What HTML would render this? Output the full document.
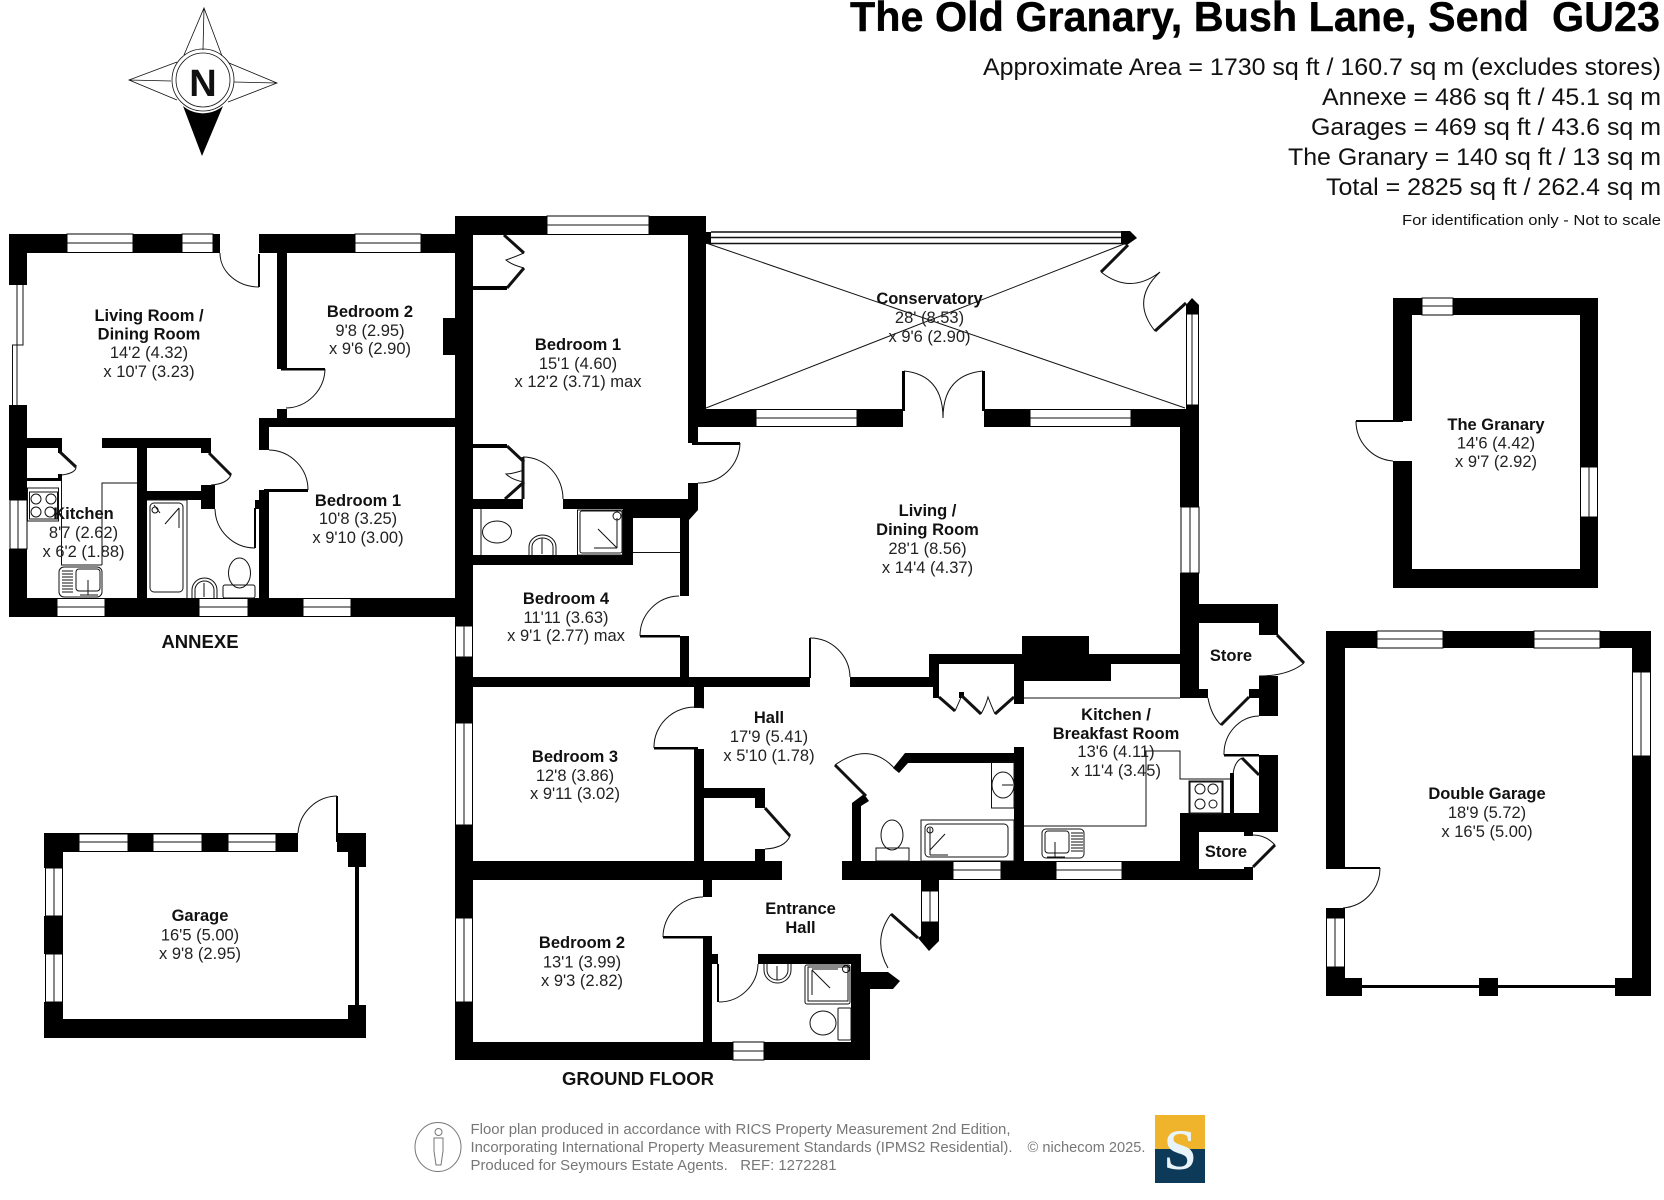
<!DOCTYPE html>
<html><head><meta charset="utf-8"><title>The Old Granary floor plan</title>
<style>
html,body{margin:0;padding:0;background:#fff}
svg{display:block}
text{font-family:"Liberation Sans",sans-serif}
.b{font-weight:bold;font-size:16.5px;fill:#111;text-anchor:middle}
.r{font-size:16.5px;fill:#222;text-anchor:middle}
.a{font-size:24px;fill:#111;text-anchor:end}
.f{font-size:14.5px;fill:#777}
.l{fill:none;stroke:#111;stroke-width:1}
.t{fill:none;stroke:#111;stroke-width:3}
.w{fill:#fff;stroke:#000;stroke-width:1}
</style></head><body>
<svg width="1664" height="1200" viewBox="0 0 1664 1200" xmlns="http://www.w3.org/2000/svg">
<rect width="1664" height="1200" fill="#fff"/>

<!-- compass -->
<g class="l" style="stroke-width:.8">
<path d="M184 55L204 8L222 56M203 50L204 8M177 62L129 80L177 100M129 80L171 81M229 63L277 83L228 102M234 82L277 83"/>
<circle cx="203" cy="80" r="31"/><circle cx="203" cy="80" r="27"/>
</g>
<path d="M183 106 A31 31 0 0 0 223 106 L202 156Z" fill="#000"/>
<text x="203" y="96" font-size="38" font-weight="bold" text-anchor="middle" fill="#111">N</text>

<!-- header -->
<text x="1660" y="31" font-size="42" font-weight="bold" text-anchor="end" fill="#000" stroke="#000" stroke-width=".4" textLength="810" lengthAdjust="spacingAndGlyphs" xml:space="preserve">The Old Granary, Bush Lane, Send  GU23</text>
<text class="a" x="1661" y="75" textLength="678" lengthAdjust="spacingAndGlyphs">Approximate Area = 1730 sq ft / 160.7 sq m (excludes stores)</text>
<text class="a" x="1661" y="105" textLength="339" lengthAdjust="spacingAndGlyphs">Annexe = 486 sq ft / 45.1 sq m</text>
<text class="a" x="1661" y="135" textLength="350" lengthAdjust="spacingAndGlyphs">Garages = 469 sq ft / 43.6 sq m</text>
<text class="a" x="1661" y="165" textLength="373" lengthAdjust="spacingAndGlyphs">The Granary = 140 sq ft / 13 sq m</text>
<text class="a" x="1661" y="195" textLength="335" lengthAdjust="spacingAndGlyphs">Total = 2825 sq ft / 262.4 sq m</text>
<text x="1661" y="225" font-size="15" fill="#111" text-anchor="end" textLength="259" lengthAdjust="spacingAndGlyphs">For identification only - Not to scale</text>

<!-- ANNEXE walls -->
<g fill="#000">
<rect x="9" y="234" width="58" height="19"/><rect x="133" y="234" width="49" height="19"/><rect x="213" y="234" width="7" height="19"/>
<rect x="259" y="234" width="96" height="19"/><rect x="421" y="234" width="34" height="19"/>
<rect x="9" y="234" width="18" height="51"/><rect x="9" y="405" width="18" height="95"/><rect x="9" y="549" width="18" height="68"/>
<rect x="9" y="598" width="48" height="19"/><rect x="105" y="598" width="94" height="19"/><rect x="248" y="598" width="55" height="19"/><rect x="351" y="598" width="104" height="19"/>
<rect x="277" y="253" width="10" height="116"/><rect x="277" y="409" width="10" height="9"/>
<rect x="259" y="418" width="196" height="9"/><rect x="259" y="418" width="10" height="32"/><rect x="259" y="490" width="10" height="108"/>
<rect x="255" y="500" width="5" height="9"/><rect x="264" y="489" width="44" height="3"/><rect x="281" y="368" width="44" height="2.5"/>
<rect x="443" y="318" width="12" height="37"/>
<rect x="27" y="438" width="35" height="10"/><rect x="102" y="438" width="109" height="10"/>
<rect x="58" y="448" width="4" height="5"/><rect x="58" y="474" width="4" height="6"/><rect x="27" y="478" width="35" height="3"/>
<rect x="137" y="448" width="10" height="150"/>
<rect x="147" y="491" width="55" height="9"/><rect x="201" y="485" width="14" height="24"/><rect x="201" y="448" width="10" height="5"/>
<rect x="254" y="508" width="2" height="40"/><rect x="258" y="254" width="2" height="33"/>

<!-- MAIN HOUSE walls -->
<rect x="455" y="216" width="92" height="19"/><rect x="649" y="216" width="57" height="19"/>
<rect x="455" y="216" width="18" height="410"/><rect x="455" y="657" width="18" height="66"/><rect x="455" y="825" width="18" height="93"/><rect x="455" y="1002" width="18" height="58"/>
<rect x="688" y="235" width="18" height="192"/><rect x="688" y="427" width="10" height="16"/><rect x="692" y="442" width="48" height="3"/><rect x="688" y="483" width="10" height="26"/>
<rect x="473" y="499" width="50" height="10"/><rect x="563" y="499" width="125" height="10"/><rect x="623" y="509" width="60" height="9"/>
<rect x="623" y="509" width="10" height="56"/><rect x="473" y="555" width="160" height="10"/>
<polygon points="680,509 698,509 698,510 689,520 689,596 680,596"/>
<rect x="640" y="635" width="40" height="2.5"/><rect x="680" y="636" width="9" height="50"/>
<rect x="473" y="677" width="337" height="10"/><rect x="850" y="677" width="83" height="10"/>
<rect x="809" y="638" width="2" height="40"/>
<rect x="694" y="687" width="10" height="21"/><rect x="654" y="747" width="44" height="2.5"/><rect x="694" y="749" width="10" height="112"/>
<rect x="704" y="788" width="61" height="10"/><rect x="755" y="798" width="10" height="10"/><rect x="755" y="849" width="10" height="12"/>
<rect x="473" y="861" width="309" height="19"/>
<rect x="703" y="880" width="9" height="17"/><rect x="663" y="936" width="49" height="2.5"/><rect x="703" y="937" width="9" height="105"/><rect x="712" y="954" width="6" height="10"/>
<rect x="717" y="964" width="2" height="38"/><rect x="758" y="954" width="103" height="10"/><rect x="851" y="954" width="10" height="88"/><rect x="861" y="972" width="9" height="88"/>
<rect x="455" y="1042" width="278" height="18"/><rect x="764" y="1042" width="106" height="18"/>
<polygon points="861,972 888,972 900,981 893,989 869,989 861,989"/>
<rect x="921" y="880" width="18" height="11"/><polygon points="921,922 939,922 939,941 929,951 918,938 921,936"/>
<rect x="842" y="861" width="111" height="19"/><rect x="1001" y="861" width="55" height="19"/><rect x="1122" y="861" width="58" height="19"/><rect x="1180" y="869" width="73" height="11"/>
<polygon points="852,861 861,861 861,806 869,801 864,794 852,803"/>
<polygon points="905,753 1015,753 1015,763 908,763 899,773 893,768"/>
<rect x="1014" y="747" width="10" height="114"/>
<!-- conservatory walls -->
<rect x="706" y="409" width="50" height="18"/><rect x="857" y="409" width="46" height="18"/><rect x="902" y="371" width="3" height="40"/>
<rect x="982" y="371" width="3" height="40"/><rect x="984" y="409" width="46" height="18"/><rect x="1131" y="409" width="68" height="18"/>
<rect x="706" y="232" width="5" height="12"/>
<polygon points="1121,231 1130,231 1137,238 1127,245 1121,244"/>
<polygon points="1192,298 1199,305 1199,314 1186,314 1186,305"/>
<rect x="1186" y="405" width="13" height="22"/><rect x="1180" y="427" width="19" height="80"/>
<!-- east wall & stores -->
<rect x="1180" y="573" width="19" height="125"/><rect x="1199" y="604" width="79" height="19"/><rect x="1259" y="604" width="19" height="31"/>
<rect x="1259" y="676" width="19" height="40"/><rect x="1259" y="755" width="19" height="77"/><rect x="1224" y="754" width="35" height="2.500"/>
<rect x="1180" y="813" width="98" height="19"/><rect x="1180" y="813" width="19" height="67"/>
<rect x="1199" y="689" width="9" height="9"/><rect x="1249" y="689" width="10" height="9"/>
<rect x="1230" y="773" width="4" height="41"/>
<rect x="1244" y="830" width="9" height="6"/><rect x="1244" y="867" width="9" height="13"/>
<!-- chimney / kitchen top -->
<rect x="929" y="654" width="251" height="10"/><rect x="1022" y="636" width="67" height="18"/>
<rect x="1014" y="664" width="97" height="17"/><rect x="1014" y="664" width="10" height="40"/>
<rect x="929" y="654" width="10" height="33"/><rect x="933" y="687" width="6" height="11"/><rect x="959" y="692" width="5" height="6"/>

<!-- GRANARY -->
<path fill-rule="evenodd" d="M1393 298H1598V588H1393V461H1412V569H1580V315H1412V421H1393Z"/>
<rect x="1356" y="420" width="47" height="2"/>

<!-- DOUBLE GARAGE -->
<rect x="1326" y="631" width="325" height="17"/><rect x="1326" y="631" width="19" height="237"/><rect x="1632" y="631" width="19" height="365"/>
<rect x="1326" y="908" width="19" height="10"/><rect x="1326" y="967" width="19" height="29"/><rect x="1326" y="978" width="36" height="18"/>
<rect x="1362" y="985" width="253" height="3"/><rect x="1479" y="978" width="19" height="18"/><rect x="1615" y="978" width="36" height="18"/>
<rect x="1326" y="867" width="54" height="2"/>

<!-- GARAGE -->
<rect x="44" y="833" width="254" height="19"/><rect x="44" y="833" width="19" height="35"/><rect x="44" y="916" width="19" height="38"/>
<rect x="44" y="1002" width="19" height="36"/><rect x="44" y="1019" width="322" height="19"/>
<rect x="337" y="833" width="29" height="19"/><rect x="348" y="852" width="18" height="15"/><rect x="348" y="1005" width="18" height="14"/>
<rect x="355" y="867" width="4" height="138"/><rect x="336" y="796" width="2" height="46"/>
</g>

<!-- windows -->
<g class="w">
<rect x="67" y="234" width="66" height="18.500"/><rect x="182" y="234" width="31" height="18.500"/><rect x="355" y="234" width="66" height="18.500"/>
<rect x="57" y="598.500" width="48" height="18"/><rect x="199" y="598.500" width="49" height="18"/><rect x="303" y="598.500" width="48" height="18"/>
<rect x="547" y="216" width="102" height="18.500"/><rect x="756" y="409.500" width="101" height="17"/><rect x="1030" y="409.500" width="101" height="17"/>
<rect x="953" y="861.500" width="48" height="18"/><rect x="1056" y="861.500" width="66" height="18"/><rect x="733" y="1042" width="31" height="18"/>
<rect x="1422" y="298" width="31" height="17"/><rect x="1377" y="631" width="66" height="17"/><rect x="1534" y="631" width="66" height="17"/>
<rect x="79" y="834" width="49" height="17.500"/><rect x="153" y="834" width="49" height="17.500"/><rect x="228" y="834" width="48" height="17.500"/>
<rect x="10" y="500" width="17" height="49"/><rect x="455.500" y="626" width="17" height="31"/><rect x="455.500" y="723" width="17" height="102"/><rect x="455.500" y="918" width="17" height="84"/>
<rect x="921.500" y="891" width="17" height="31"/><rect x="1181" y="507" width="18" height="66"/><rect x="1186.500" y="314" width="12" height="91"/>
<rect x="1580.500" y="467" width="17" height="50"/><rect x="1632.500" y="672" width="18" height="84"/><rect x="1326.500" y="918" width="18" height="49"/>
<rect x="45.500" y="868" width="17" height="48"/><rect x="45.500" y="954" width="17" height="48"/>
</g>
<path class="l" d="M67 243H133M182 243H213M355 243H421M57 607H105M199 607H248M303 607H351M547 225H649M756 418H857M1030 418H1131M953 870H1001M1056 870H1122M733 1051H764M1422 306H1453M1377 639H1443M1534 639H1600M79 842H128M153 842H202M228 842H276M18 500V549M464 626V657M464 723V825M464 918V1002M930 891V922M1190 507V573M1192 314V405M1589 467V517M1641 672V756M1335 918V967M54 868V916M54 954V1002"/>
<!-- annexe bay window -->
<path class="l" d="M23 285V345H17V405M17 285V345H12.500V405"/>
<!-- conservatory -->
<path d="M711 232H1121M711 237.500H1121M711 243.500H1121" class="l" style="stroke-width:1.500"/>
<path class="l" d="M706 243L1185 408M706 408L1124 244"/>
<path class="t" d="M1128 245L1101 272M1155 331L1186 303"/>
<path class="l" d="M1101 272Q1130 295 1160 272M1160 272Q1130 300 1155 331M904 371Q943 375 943 418M983 371Q943 375 943 418"/>

<!-- doors -->
<g class="l">
<path d="M220 253A39 34 0 0 0 259 287M325 369A40 40 0 0 1 286 408M269 450A40 40 0 0 1 308 490M62 475Q76 473 76 467M211 485Q227 484 231 475M215 509A40 40 0 0 0 255 548"/>
<path d="M740 443A41 41 0 0 1 698 483M523 457A40 42 0 0 1 563 499M679 596A40 40 0 0 0 640 636M810 638A40 40 0 0 1 850 677M704 708A41 40 0 0 0 654 748M765 849Q785 848 790 836M703 897A40 40 0 0 0 663 937M719 1002A39 39 0 0 0 758 964"/>
<path d="M835 765Q870 740 896 770M891 914Q872 940 888 968M1304 663Q1288 676 1259 676M1259 716A36 38 0 0 0 1224 755M1208 698Q1211 715 1221 725M1233 775Q1234 762 1242 758M1253 835Q1266 835 1275 845M1356 421A40 40 0 0 0 1393 461M1380 868A40 40 0 0 1 1343 908M298 833A40 40 0 0 1 337 796"/>
</g>
<g class="t">
<path d="M60 452L76 467M209 453L231 475M765 808L790 836M835 765L866 796M918 938L891 914M1277 635L1304 663M1221 725L1249 697M1242 758L1259 775M1275 845L1253 867M504 235L524 253M524 268L507 288M507 446L524 462M523 457V499M524 482L505 499M939 697L955 711M962 696L981 714M995 714L1014 697"/>
</g>
<path class="l" d="M524 253Q512 258 506 260Q512 265 524 268M524 470Q512 474 506 474Q512 480 524 482M955 711Q960 700 962 695M981 714Q986 705 988 697Q991 705 995 714"/>
<path d="M473 286H507V290H473Z" fill="#000"/><path d="M473 444H507V448H473Z" fill="#000"/>

<!-- kitchen counters etc -->
<g class="l">
<path d="M61.500 481V565H102M102 565V483H137M147 500H187V598M633 552.500H680M481 509V555M1024 826H1146V751H1180V779H1230M1024 698H1180"/>
<rect x="27.500" y="488" width="31" height="33"/><rect x="29.500" y="492" width="28" height="27"/>
<circle cx="36" cy="499" r="5"/><circle cx="51" cy="499" r="5"/><circle cx="36" cy="512" r="5"/><circle cx="50" cy="512" r="5"/>
<rect x="59" y="567" width="43" height="30" rx="5"/><rect x="76" y="569" width="24" height="22" rx="3"/>
<path d="M62 571H73M62 574H73M62 577H73M62 580H73M62 583H73M62 586H73M62 589H73M62 592H73M88 580V595M80 595H98"/>
<!-- annexe bath -->
<rect x="150" y="503" width="33" height="89" rx="4"/><path d="M179 508V528M179 508L165 524M154 505L160 513"/><circle cx="155" cy="510" r="3"/>
<ellipse cx="239.500" cy="573" rx="11" ry="15"/><rect x="223" y="585" width="32" height="13" rx="2"/>
<path d="M192 598V590A12.500 12 0 0 1 217 590V598"/><path d="M195 598V590A9.500 9 0 0 1 214 590V598M204 583V597"/>
<!-- en-suite bed 1 -->
<ellipse cx="497" cy="532" rx="14.500" ry="11"/>
<path d="M529 555V547A13.500 12 0 0 1 556 547V555M532 555V547A10.500 9 0 0 1 553 547V555M542 538V554"/>
<rect x="577.500" y="510" width="45" height="45"/><rect x="580" y="511" width="42" height="42" rx="2"/><circle cx="617" cy="516" r="4"/>
<path d="M598 529L617 548M594 548H617M617 518V548"/>
<!-- main bath -->
<rect x="921" y="820" width="93" height="41"/><rect x="925" y="824" width="83" height="33" rx="4"/><circle cx="930" cy="830" r="3"/>
<path d="M930 828V855M930 855H948M930 850L945 834"/>
<rect x="991.500" y="762" width="22.500" height="46"/><ellipse cx="1003" cy="785" rx="11" ry="13"/><path d="M1002 785H1013"/>
<ellipse cx="892" cy="835" rx="11" ry="15"/><rect x="876" y="848" width="33" height="13"/>
<!-- kitchen -->
<rect x="1190" y="782" width="32" height="31"/><rect x="1189" y="781" width="34" height="33"/>
<circle cx="1200" cy="789" r="5"/><circle cx="1213" cy="789" r="5"/><circle cx="1200" cy="804" r="5"/><circle cx="1213" cy="804" r="4"/>
<rect x="1042" y="829" width="42" height="29" rx="4"/><rect x="1045" y="831" width="24" height="22" rx="3"/>
<path d="M1071 833H1083M1071 836H1083M1071 839H1083M1071 842H1083M1071 845H1083M1071 848H1083M1071 851H1083M1055 842V857M1047 857H1065"/>
<!-- entrance en-suite -->
<path d="M764 964V970A13.500 13 0 0 0 791 970V964M767 964V970A10.500 10 0 0 0 788 970V964M777 966V980"/>
<rect x="805" y="965" width="45" height="39" rx="2"/><rect x="808" y="967" width="40" height="34"/><circle cx="846" cy="969" r="3.500"/><path d="M812 970L830 988M812 970V995M812 969H838"/>
<ellipse cx="823" cy="1023" rx="13" ry="12"/><rect x="838" y="1008" width="13" height="32" rx="1"/>
</g>

<!-- labels -->
<text class="b" x="149" y="321">Living Room /</text><text class="b" x="149" y="339.500">Dining Room</text><text class="r" x="149" y="358">14'2 (4.32)</text><text class="r" x="149" y="377">x 10'7 (3.23)</text>
<text class="b" x="370" y="317">Bedroom 2</text><text class="r" x="370" y="336">9'8 (2.95)</text><text class="r" x="370" y="354">x 9'6 (2.90)</text>
<text class="b" x="358" y="506">Bedroom 1</text><text class="r" x="358" y="524">10'8 (3.25)</text><text class="r" x="358" y="543">x 9'10 (3.00)</text>
<text class="b" x="83.500" y="519">Kitchen</text><text class="r" x="83.500" y="538">8'7 (2.62)</text><text class="r" x="83.500" y="557">x 6'2 (1.88)</text>
<text x="200" y="648" font-size="18.500" font-weight="bold" fill="#111" text-anchor="middle">ANNEXE</text>
<text class="b" x="578" y="350">Bedroom 1</text><text class="r" x="578" y="369">15'1 (4.60)</text><text class="r" x="578" y="387">x 12'2 (3.71) max</text>
<text class="b" x="566" y="604">Bedroom 4</text><text class="r" x="566" y="623">11'11 (3.63)</text><text class="r" x="566" y="641">x 9'1 (2.77) max</text>
<text class="b" x="929.500" y="304">Conservatory</text><text class="r" x="929.500" y="323">28' (8.53)</text><text class="r" x="929.500" y="342">x 9'6 (2.90)</text>
<text class="b" x="927.500" y="516">Living /</text><text class="b" x="927.500" y="535">Dining Room</text><text class="r" x="927.500" y="554">28'1 (8.56)</text><text class="r" x="927.500" y="573">x 14'4 (4.37)</text>
<text class="b" x="769" y="723">Hall</text><text class="r" x="769" y="742">17'9 (5.41)</text><text class="r" x="769" y="761">x 5'10 (1.78)</text>
<text class="b" x="575" y="762">Bedroom 3</text><text class="r" x="575" y="781">12'8 (3.86)</text><text class="r" x="575" y="799">x 9'11 (3.02)</text>
<text class="b" x="582" y="948">Bedroom 2</text><text class="r" x="582" y="967.500">13'1 (3.99)</text><text class="r" x="582" y="986">x 9'3 (2.82)</text>
<text class="b" x="800.500" y="914">Entrance</text><text class="b" x="800.500" y="933">Hall</text>
<text class="b" x="1116" y="720">Kitchen /</text><text class="b" x="1116" y="739">Breakfast Room</text><text class="r" x="1116" y="757">13'6 (4.11)</text><text class="r" x="1116" y="776">x 11'4 (3.45)</text>
<text class="b" x="1231" y="661">Store</text><text class="b" x="1226" y="857">Store</text>
<text class="b" x="1496" y="430">The Granary</text><text class="r" x="1496" y="448.500">14'6 (4.42)</text><text class="r" x="1496" y="467">x 9'7 (2.92)</text>
<text class="b" x="1487" y="799">Double Garage</text><text class="r" x="1487" y="818">18'9 (5.72)</text><text class="r" x="1487" y="837">x 16'5 (5.00)</text>
<text class="b" x="200" y="921">Garage</text><text class="r" x="200" y="940.500">16'5 (5.00)</text><text class="r" x="200" y="959">x 9'8 (2.95)</text>
<text x="638" y="1085" font-size="18.500" font-weight="bold" fill="#111" text-anchor="middle">GROUND FLOOR</text>

<!-- footer -->
<ellipse cx="438" cy="1147" rx="23" ry="24.500" fill="none" stroke="#777" stroke-width="1"/>
<circle cx="438.500" cy="1132" r="3.500" fill="none" stroke="#777"/>
<path d="M434 1138H443V1151L441 1165H436L434 1151Z" fill="none" stroke="#777"/>
<text class="f" x="470.500" y="1134" textLength="540" lengthAdjust="spacingAndGlyphs">Floor plan produced in accordance with RICS Property Measurement 2nd Edition,</text>
<text class="f" x="470.500" y="1152" textLength="542" lengthAdjust="spacingAndGlyphs">Incorporating International Property Measurement Standards (IPMS2 Residential).</text>
<text class="f" x="470.500" y="1170" textLength="366" lengthAdjust="spacingAndGlyphs" xml:space="preserve">Produced for Seymours Estate Agents.   REF: 1272281</text>
<text class="f" x="1027.500" y="1152" textLength="118" lengthAdjust="spacingAndGlyphs">© nichecom 2025.</text>
<rect x="1155" y="1115" width="50" height="34" fill="#f0b42c"/><rect x="1155" y="1149" width="50" height="34" fill="#0e3a59"/>
<text x="1180" y="1169" font-size="57" font-weight="bold" fill="#e9f4fa" text-anchor="middle" style="font-family:'Liberation Serif',serif">S</text>
</svg>
</body></html>
